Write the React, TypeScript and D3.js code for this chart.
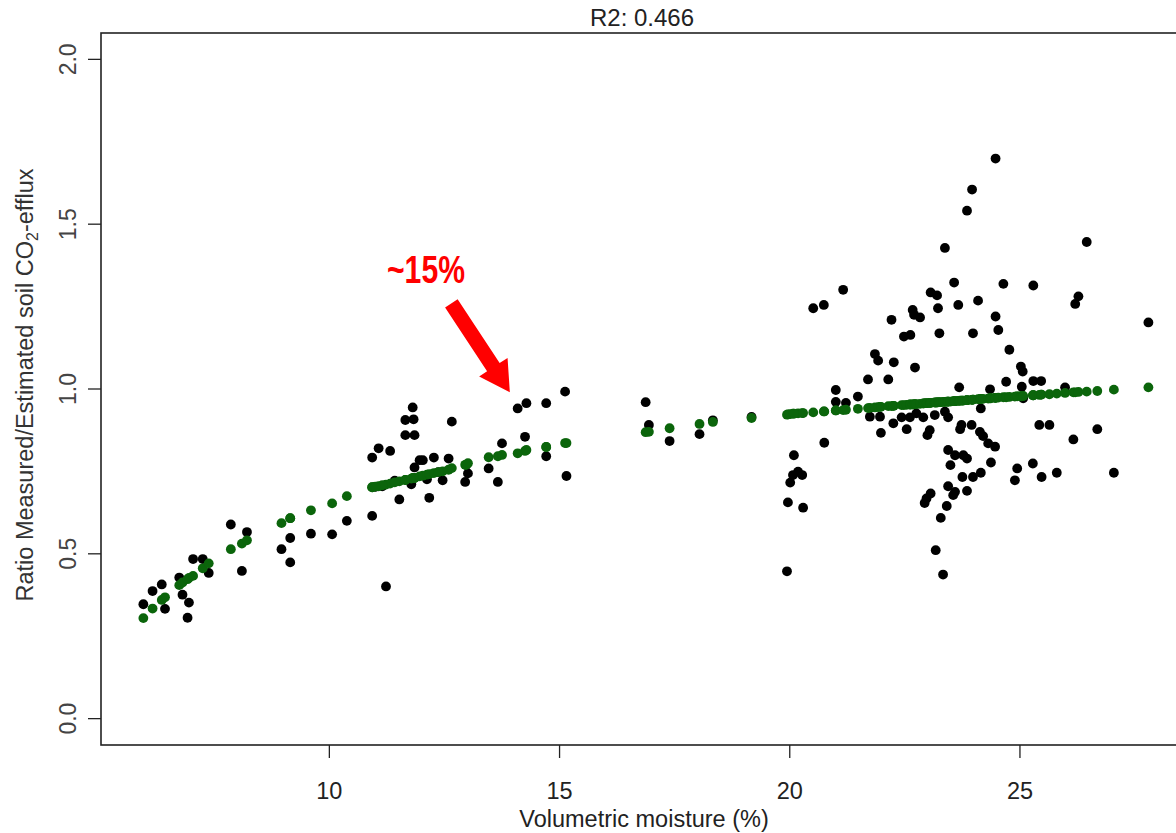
import React from "react";
import * as d3 from "d3";

// Volumetric moisture (%) of each observation
const moisture: number[] = [
  5.96, 6.16, 6.36, 6.43, 6.74, 6.81, 6.92, 6.95, 7.04, 7.25, 7.38, 7.86, 8.10, 8.21, 8.96, 9.15, 9.15, 9.60,
  10.06, 10.38, 10.93, 10.93, 11.07, 11.23, 11.32, 11.52, 11.65, 11.83, 11.81, 11.65, 11.85, 11.78, 11.85, 11.96,
  12.03, 12.12, 12.17, 12.27, 12.46, 12.59, 12.66, 12.95, 12.97, 13.01, 13.46, 13.66, 13.75, 14.09, 14.25, 14.28,
  14.71, 14.71, 15.12, 15.15, 11.15, 11.42, 12.37, 11.00,
  16.87, 16.94, 17.39, 18.04, 18.33, 19.17,
  19.94, 19.96, 20.29, 20.01, 20.07, 20.18, 20.27, 20.09, 20.51, 20.74, 20.75, 21.00, 21.00, 21.22, 21.16, 21.48,
  21.74, 21.96, 21.70, 21.85, 21.92, 21.98, 22.14, 22.21, 22.26, 22.25, 22.43, 22.48, 22.54, 22.61, 22.62, 22.67,
  22.70, 22.72, 22.75, 22.83, 22.90, 22.93, 22.97, 22.99, 23.04, 23.06, 23.06, 23.20, 23.15, 23.17, 23.22, 23.25,
  23.28, 23.33, 23.37, 23.37, 23.41, 23.44, 23.44, 23.44, 23.49, 23.55, 23.57, 23.59, 23.59, 23.66, 23.68, 23.73,
  23.70, 23.77, 23.75, 23.85, 23.85, 23.85, 23.95, 23.96, 23.98, 23.98, 24.09, 24.13, 24.15, 24.15, 24.20, 24.31,
  24.35, 24.37, 24.46, 24.47, 24.47, 24.53, 24.64, 24.70, 24.77, 24.89, 24.94, 25.02, 25.06, 25.04, 25.07, 25.29,
  25.28, 25.29, 25.42, 25.46, 25.47, 25.64, 25.80, 25.98, 26.16, 26.20, 26.27, 26.45, 26.68, 27.04, 27.79,
];

// Measured / estimated ratio (black points)
const ratio: number[] = [
  0.347, 0.387, 0.407, 0.333, 0.428, 0.376, 0.306, 0.352, 0.484, 0.484, 0.442, 0.589, 0.448, 0.566, 0.514, 0.548, 0.474, 0.561,
  0.559, 0.600, 0.615, 0.792, 0.820, 0.401, 0.812, 0.665, 0.906, 0.908, 0.944, 0.860, 0.860, 0.711, 0.762, 0.784,
  0.784, 0.726, 0.670, 0.792, 0.723, 0.789, 0.901, 0.718, 0.769, 0.744, 0.759, 0.718, 0.835, 0.941, 0.855, 0.957,
  0.957, 0.796, 0.992, 0.736, 0.705, 0.722, 0.748, 0.703,
  0.960, 0.891, 0.842, 0.863, 0.905, 0.915,
  0.447, 0.656, 0.640, 0.716, 0.739, 0.749, 0.739, 0.799, 1.245, 1.255, 0.837, 0.997, 0.961, 0.958, 1.301, 0.977,
  0.916, 0.916, 1.029, 1.106, 1.086, 0.867, 1.029, 1.210, 1.081, 0.896, 0.914, 1.159, 0.878, 0.914, 1.164, 1.240,
  1.225, 1.065, 0.926, 1.217, 0.914, 0.654, 0.668, 0.860, 0.875, 1.293, 0.683, 1.284, 0.921, 0.511, 1.245, 1.169,
  0.609, 0.437, 0.931, 1.428, 0.645, 0.914, 0.815, 0.705, 0.769, 0.678, 1.323, 0.799, 0.688, 1.255, 1.005, 0.891,
  0.878, 0.799, 0.733, 0.789, 0.691, 1.541, 0.891, 1.605, 1.169, 0.733, 1.268, 0.870, 0.941, 0.746, 0.857, 0.835,
  0.999, 0.777, 0.825, 1.699, 1.220, 1.179, 1.319, 1.022, 1.119, 0.723, 0.759, 1.068, 1.053, 1.007, 0.972, 1.024,
  0.774, 1.314, 0.891, 1.024, 0.733, 0.891, 0.746, 1.005, 0.847, 1.258, 1.281, 1.446, 0.878, 0.746, 1.202,
];

// Fitted ratio at each observation (green points)
const fitted: number[] = [
  0.305, 0.334, 0.360, 0.368, 0.405, 0.413, 0.423, 0.427, 0.433, 0.456, 0.471, 0.514, 0.531, 0.541, 0.593, 0.608, 0.608, 0.632,
  0.653, 0.675, 0.702, 0.702, 0.705, 0.710, 0.713, 0.720, 0.724, 0.730, 0.730, 0.724, 0.730, 0.728, 0.730, 0.735,
  0.737, 0.740, 0.742, 0.745, 0.750, 0.755, 0.760, 0.770, 0.770, 0.775, 0.793, 0.796, 0.800, 0.805, 0.812, 0.815,
  0.824, 0.824, 0.836, 0.836, 0.708, 0.717, 0.748, 0.704,
  0.869, 0.870, 0.881, 0.894, 0.900, 0.912,
  0.922, 0.923, 0.927, 0.924, 0.925, 0.926, 0.927, 0.925, 0.929, 0.932, 0.932, 0.935, 0.935, 0.937, 0.936, 0.940,
  0.943, 0.946, 0.942, 0.944, 0.945, 0.946, 0.948, 0.948, 0.949, 0.949, 0.951, 0.951, 0.952, 0.953, 0.953, 0.953,
  0.954, 0.954, 0.954, 0.955, 0.956, 0.957, 0.957, 0.957, 0.958, 0.958, 0.958, 0.959, 0.959, 0.959, 0.960, 0.960,
  0.960, 0.961, 0.961, 0.961, 0.962, 0.962, 0.962, 0.962, 0.962, 0.963, 0.963, 0.963, 0.963, 0.964, 0.964, 0.965,
  0.965, 0.965, 0.965, 0.966, 0.966, 0.966, 0.967, 0.967, 0.968, 0.968, 0.969, 0.969, 0.970, 0.970, 0.970, 0.971,
  0.972, 0.972, 0.973, 0.973, 0.973, 0.974, 0.975, 0.975, 0.976, 0.977, 0.978, 0.978, 0.979, 0.978, 0.979, 0.981,
  0.981, 0.981, 0.982, 0.983, 0.983, 0.984, 0.986, 0.988, 0.990, 0.990, 0.991, 0.992, 0.994, 0.998, 1.005,
];

const xTicks: number[] = [10, 15, 20, 25];
const yTicks: number[] = [0, 0.5, 1.0, 1.5, 2.0];
const yTickLabels: string[] = ["0.0", "0.5", "1.0", "1.5", "2.0"];

const titleText = "R2:  0.466";
const xLabel = "Volumetric moisture (%)";
const annotationText = "~15%";
// arrow from / to in data coordinates
const arrowFrom: [number, number] = [12.65, 1.26];
const arrowTo: [number, number] = [13.92, 0.99];

const W = 1176;
const H = 833;
const FONT = "'Liberation Sans', Arial, sans-serif";

export default function App() {
  const x = d3.scaleLinear().domain([5.04, 28.65]).range([101, 1188]);
  const y = d3.scaleLinear().domain([-0.08, 2.08]).range([745, 33]);
  const left = 101, right = 1188, top = 33, bottom = 745;

  // arrow polygon
  const [ax0, ay0] = [x(arrowFrom[0]), y(arrowFrom[1])];
  const [ax1, ay1] = [x(arrowTo[0]), y(arrowTo[1])];
  const dx = ax1 - ax0, dy = ay1 - ay0;
  const len = Math.hypot(dx, dy);
  const ux = dx / len, uy = dy / len;
  const px = -uy, py = ux;
  const hw = 7.5, headLen = 30, headHw = 17;
  const bx = ax1 - ux * headLen, by = ay1 - uy * headLen;
  const arrowPts: [number, number][] = [
    [ax0 + px * hw, ay0 + py * hw],
    [bx + px * hw, by + py * hw],
    [bx + px * headHw, by + py * headHw],
    [ax1, ay1],
    [bx - px * headHw, by - py * headHw],
    [bx - px * hw, by - py * hw],
    [ax0 - px * hw, ay0 - py * hw],
  ];
  const arrowPath = d3.line()(arrowPts) + "Z";

  const idx = d3.range(moisture.length);
  const yLabelCx = 33;
  const yLabelCy = 385;

  return (
    <svg
      width={W}
      height={H}
      style={{ position: "absolute", left: 0, top: 0, background: "#fff" }}
      fontFamily={FONT}
    >
      <rect x={0} y={0} width={W} height={H} fill="#fff" />
      <text x={642} y={26} fontSize={24} textAnchor="middle" fill="#222">
        {titleText}
      </text>
      {/* points */}
      <g fill="#000">
        {idx.map((i) => (
          <circle key={"b" + i} cx={x(moisture[i])} cy={y(ratio[i])} r={4.9} />
        ))}
      </g>
      <g fill="#0b650b">
        {idx.map((i) => (
          <circle key={"g" + i} cx={x(moisture[i])} cy={y(fitted[i])} r={4.9} />
        ))}
      </g>
      {/* box */}
      <rect
        x={left}
        y={top}
        width={right - left}
        height={bottom - top}
        fill="none"
        stroke="#222"
        strokeWidth={1.6}
      />
      {/* x axis */}
      <g>
        {xTicks.map((t) => (
          <g key={"xt" + t}>
            <line x1={x(t)} x2={x(t)} y1={bottom} y2={bottom + 13} stroke="#222" strokeWidth={1.3} />
            <text x={x(t)} y={799} fontSize={23.5} textAnchor="middle" fill="#222">
              {t}
            </text>
          </g>
        ))}
        <text x={644} y={827} fontSize={23.5} textAnchor="middle" fill="#222">
          {xLabel}
        </text>
      </g>
      {/* y axis */}
      <g>
        {yTicks.map((t, i) => (
          <g key={"yt" + t}>
            <line x1={left - 13} x2={left} y1={y(t)} y2={y(t)} stroke="#222" strokeWidth={1.3} />
            <text
              transform={`translate(${76},${y(t)}) rotate(-90)`}
              fontSize={23}
              textAnchor="middle"
              fill="#444"
            >
              {yTickLabels[i]}
            </text>
          </g>
        ))}
        <text
          transform={`translate(${yLabelCx},${yLabelCy}) rotate(-90)`}
          fontSize={23.5}
          textAnchor="middle"
          fill="#333"
        >
          <tspan>Ratio Measured/Estimated soil CO</tspan>
          <tspan fontSize={16} dy={5}>2</tspan>
          <tspan dy={-5}>-efflux</tspan>
        </text>
      </g>
      {/* annotation */}
      <path d={arrowPath} fill="#ff0000" />
      <text
        x={387}
        y={283}
        fontSize={38}
        fontWeight="bold"
        fill="#ff0000"
        textLength={78}
        lengthAdjust="spacingAndGlyphs"
      >
        {annotationText}
      </text>
    </svg>
  );
}
